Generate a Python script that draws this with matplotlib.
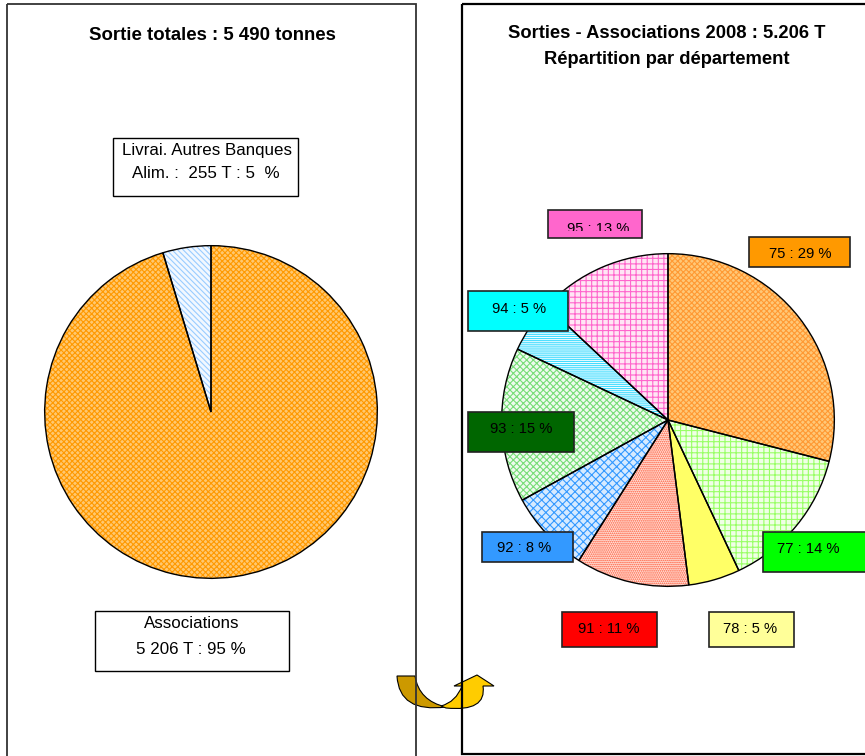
import matplotlib
matplotlib.use("Agg")
import matplotlib.pyplot as plt
from matplotlib.patches import Rectangle, PathPatch
from matplotlib.path import Path
from matplotlib.transforms import Bbox

plt.rcParams["font.family"] = ["Liberation Sans", "DejaVu Sans"]
plt.rcParams["hatch.linewidth"] = 0.8

# Sorties totales (tonnes)
total_labels = ["Associations", "Livrai. Autres Banques Alim."]
total_tonnes = [5206, 255]
total_pcts = [95, 5]
total_title = "Sortie totales : 5 490 tonnes"

# Sorties associations par département (%)
departements = ["75", "77", "78", "91", "92", "93", "94", "95"]
dept_pcts = [29, 14, 5, 11, 8, 15, 5, 13]
dept_title = ["Sorties - Associations 2008 : 5.206 T", "Répartition par département"]

W, H = 865, 756
fig = plt.figure(figsize=(W / 100, H / 100), dpi=100)


def pie_axes(cx, cy, r):
    # axes placed in pixel units, measured from the top-left corner
    return fig.add_axes([(cx - r) / W, 1 - (cy + r) / H, 2 * r / W, 2 * r / H])


def draw_pie(ax, values, faces, hatch_colors, hatches):
    wedges, _ = ax.pie(values, startangle=90, counterclock=False, radius=1,
                       wedgeprops=dict(linewidth=0))
    for w, fc, hc, h in zip(wedges, faces, hatch_colors, hatches):
        w.set_facecolor(fc)
        w.set_edgecolor(hc)  # edge colour drives the hatch colour
        w.set_hatch(h)
    # black outlines on top
    ax.pie(values, startangle=90, counterclock=False, radius=1,
           wedgeprops=dict(facecolor="none", edgecolor="black", linewidth=1.0))
    ax.set_xlim(-1.01, 1.01)
    ax.set_ylim(-1.01, 1.01)


ax_left = pie_axes(211, 412, 168)
draw_pie(ax_left, total_tonnes,
         faces=["#ffc870", "#f2f8ff"],
         hatch_colors=["#ff9900", "#99ccff"],
         hatches=["xxxxxx", "\\\\\\\\\\\\"])

ax_right = pie_axes(668, 420, 168)
draw_pie(ax_right, dept_pcts,
         faces=["#ffc878", "#f0ffe6", "#ffff66", "#ffe2da",
                "#d6eaff", "#eefaee", "#f2fdff", "#ffe6f4"],
         hatch_colors=["#ff9933", "#99ff66", "#ffff66", "#ff5533",
                       "#3399ff", "#77dd77", "#44ddff", "#ff66cc"],
         hatches=["xxxxxx", "+++", "", "........",
                  "xxxx", "xxxxx", "--------", "+++"])

# overlay in pixel coordinates for frames, titles, boxes and arrow
ov = fig.add_axes([0, 0, 1, 1], zorder=5)
ov.set_xlim(0, W)
ov.set_ylim(H, 0)
ov.axis("off")

# curved arrow between the two panels
left_arm = Path([(397, 676), (415, 676), (419, 701), (446, 707), (399, 713), (397, 676), (397, 676)],
                [Path.MOVETO, Path.LINETO, Path.CURVE3, Path.CURVE3, Path.CURVE3, Path.CURVE3,
                 Path.CLOSEPOLY])
right_arm = Path([(441, 706), (456, 702), (462, 686), (454, 686), (477, 675), (494, 686),
                  (483, 686), (487, 712), (446, 708), (441, 706)],
                 [Path.MOVETO, Path.CURVE3, Path.CURVE3, Path.LINETO, Path.LINETO, Path.LINETO,
                  Path.LINETO, Path.CURVE3, Path.CURVE3, Path.CLOSEPOLY])
ov.add_patch(PathPatch(left_arm, facecolor="#cc9900", edgecolor="black", linewidth=0.8))
ov.add_patch(PathPatch(right_arm, facecolor="#ffcc00", edgecolor="black", linewidth=0.8))

# panel frames
ov.add_patch(Rectangle((7, 4), 409, 770, fill=False, edgecolor="#333333", linewidth=1.3))
ov.add_patch(Rectangle((462, 4), 420, 750, fill=False, edgecolor="black", linewidth=1.6))

# titles
ov.text(212, 35, total_title, ha="center", va="center", fontsize=13.4, fontweight="bold")
ov.text(667, 34, dept_title[0], ha="center", va="center", fontsize=13.2, fontweight="bold")
ov.text(667, 59, dept_title[1], ha="center", va="center", fontsize=13.2, fontweight="bold")

# left pie labels
ov.add_patch(Rectangle((113, 138), 185, 58, facecolor="white", edgecolor="black", linewidth=1))
name1, name2 = total_labels[1].rsplit(" ", 1)
ov.text(207, 151, name1, ha="center", va="center", fontsize=12.2)
ov.text(206, 174, f"{name2} :  {total_tonnes[1]} T : {total_pcts[1]}  %",
        ha="center", va="center", fontsize=12.2)

ov.add_patch(Rectangle((95, 611), 194, 60, facecolor="white", edgecolor="black", linewidth=1))
ov.text(192, 624, total_labels[0], ha="center", va="center", fontsize=12.2)
ov.text(191, 649, f"{total_tonnes[0]:,} T : {total_pcts[0]} %".replace(",", " "),
        ha="center", va="center", fontsize=12.2)

# right pie labels: box (x0, y0, x1, y1), text position, fill colour, text clip bottom
label_boxes = {
    "75": ((749, 237, 850, 267), (800, 254), "#ff9900", None),
    "77": ((763, 532, 875, 572), (808, 549), "#00ff00", None),
    "78": ((709, 612, 794, 647), (750, 629), "#ffff99", None),
    "91": ((562, 612, 657, 647), (609, 629), "#ff0000", None),
    "92": ((482, 532, 573, 562), (524, 548), "#3399ff", None),
    "93": ((468, 412, 574, 452), (521, 429), "#006600", None),
    "94": ((468, 291, 568, 331), (519, 309), "#00ffff", None),
    "95": ((548, 210, 642, 238), (598, 229), "#ff66cc", 231),
}
for dep, pct in zip(departements, dept_pcts):
    (x0, y0, x1, y1), (tx, ty), fc, clip_y = label_boxes[dep]
    box = Rectangle((x0, y0), x1 - x0, y1 - y0, facecolor=fc, edgecolor="#222222", linewidth=1.2)
    ov.add_patch(box)
    t = ov.text(tx, ty, f"{dep} : {pct} %", ha="center", va="center", fontsize=10.6)
    if clip_y is not None:
        # text cut off along its lower part
        (dx0, dy0), (dx1, dy1) = ov.transData.transform([(x0, y0), (x1, clip_y)])
        t.set_clip_on(True)
        t.set_clip_box(Bbox.from_extents(min(dx0, dx1), min(dy0, dy1),
                                         max(dx0, dx1), max(dy0, dy1)))

fig.savefig("out.png", dpi=100)
